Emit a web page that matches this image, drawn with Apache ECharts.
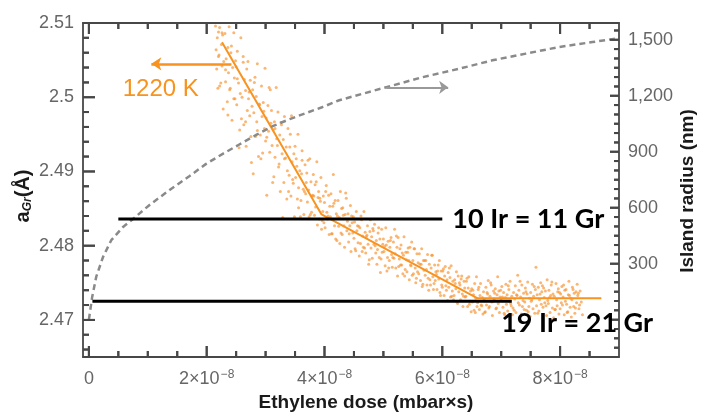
<!DOCTYPE html>
<html>
<head>
<meta charset="utf-8">
<script src="https://cdn.jsdelivr.net/npm/echarts@6/dist/echarts.min.js"></script>
<style>
  html, body { margin: 0; padding: 0; background: #ffffff; }
  #chart { width: 702px; height: 414px; }
</style>
</head>
<body>
<div id="chart"></div>
<script>
// Ethylene dose is stored in units of 1e-8 mbar·s; lattice parameter a_Gr in Å; island radius in nm.
const doseTicks = [0, 2, 4, 6, 8];
const doseMinorTicks = [0.5, 1, 1.5, 2.5, 3, 3.5, 4.5, 5, 5.5, 6.5, 7, 7.5, 8.5];
const latticeTicks = [2.47, 2.48, 2.49, 2.50, 2.51];
const latticeMinorTicks = [2.466, 2.468, 2.472, 2.474, 2.476, 2.478, 2.482, 2.484, 2.486, 2.488,
  2.492, 2.494, 2.496, 2.498, 2.502, 2.504, 2.506, 2.508];
const radiusTicks = [0, 300, 600, 900, 1200, 1500];
const radiusLabels = [300, 600, 900, 1200, 1500];
const radiusMinorTicks = [-150, -100, -50, 50, 100, 150, 200, 250, 350, 400, 450, 500, 550, 650, 700, 750,
  800, 850, 950, 1000, 1050, 1100, 1150, 1250, 1300, 1350, 1400, 1450, 1550];

// Measured lattice parameter during growth at 1220 K
const steepDots = [
  [2.15,2.5096],[2.16,2.5064],[2.17,2.5038],[2.17,2.5102],[2.18,2.5080],[2.19,2.5012],[2.20,2.5055],[2.20,2.5088],
  [2.21,2.5057],[2.22,2.5094],[2.24,2.5019],[2.25,2.5071],[2.26,2.5042],[2.27,2.5084],[2.28,2.4984],[2.29,2.5048],
  [2.31,2.5086],[2.32,2.5021],[2.33,2.5052],[2.35,2.4994],[2.36,2.5067],[2.37,2.5033],[2.38,2.5095],[2.39,2.5010],
  [2.40,2.5012],[2.41,2.5060],[2.43,2.4969],[2.44,2.5040],[2.46,2.5087],[2.47,2.5026],[2.48,2.4998],[2.49,2.5049],
  [2.50,2.5041],[2.51,2.4990],[2.52,2.5062],[2.54,2.5019],[2.55,2.4932],[2.57,2.5005],[2.58,2.5080],[2.59,2.4971],
  [2.60,2.5000],[2.62,2.5055],[2.63,2.4963],[2.64,2.5024],[2.66,2.5009],[2.67,2.4934],[2.68,2.5038],[2.69,2.4982],
  [2.70,2.5048],[2.71,2.4998],[2.73,2.4975],[2.74,2.5023],[2.75,2.4947],[2.77,2.4988],[2.78,2.5010],[2.79,2.4897],
  [2.80,2.4979],[2.81,2.5020],[2.83,2.4947],[2.84,2.5001],[2.85,2.4967],[2.86,2.5045],[2.88,2.4920],[2.89,2.4991],
  [2.90,2.4990],[2.91,2.4949],[2.93,2.5015],[2.94,2.4974],[2.95,2.4925],[2.97,2.4981],[2.98,2.4958],[2.99,2.5039],
  [3.00,2.4941],[3.01,2.4972],[3.02,2.4868],[3.04,2.4989],[3.05,2.4954],[3.07,2.4926],[3.08,2.5010],[3.09,2.4965],
  [3.10,2.4982],[3.11,2.4935],[3.13,2.4956],[3.14,2.4893],[3.15,2.4967],[3.16,2.4919],[3.18,2.5013],[3.19,2.4944],
  [3.20,2.4935],[3.21,2.4980],[3.23,2.4910],[3.24,2.4949],[3.25,2.4873],[3.27,2.4963],[3.28,2.4924],[3.29,2.4838],
  [3.30,2.4943],[3.31,2.4885],[3.32,2.4974],[3.34,2.4918],[3.35,2.4933],[3.37,2.4901],[3.38,2.4958],[3.39,2.4873],
  [3.40,2.4895],[3.41,2.4933],[3.43,2.4867],[3.44,2.4975],[3.45,2.4913],[3.47,2.4884],[3.48,2.4924],[3.49,2.4839],
  [3.50,2.4934],[3.51,2.4892],[3.53,2.4907],[3.54,2.4863],[3.55,2.4950],[3.56,2.4878],[3.58,2.4901],[3.59,2.4839],
  [3.60,2.4861],[3.61,2.4897],[3.62,2.4928],[3.64,2.4876],[3.65,2.4842],[3.67,2.4909],[3.68,2.4870],[3.69,2.4885],
  [3.70,2.4898],[3.71,2.4859],[3.73,2.4875],[3.74,2.4839],[3.75,2.4917],[3.77,2.4886],[3.78,2.4845],[3.79,2.4867],
  [3.80,2.4868],[3.81,2.4896],[3.83,2.4841],[3.84,2.4882],[3.85,2.4852],[3.87,2.4913],[3.88,2.4828],[3.89,2.4865],
  [2.22,2.5015],[2.26,2.5087],[2.32,2.5037],[2.36,2.4976],[2.42,2.5069],[2.46,2.4998],[2.52,2.5025],[2.56,2.4956],
  [2.62,2.5047],[2.66,2.4967],[2.72,2.5007],[2.76,2.4912],[2.82,2.5027],[2.86,2.4955],[2.92,2.4917],[2.96,2.4993],
  [3.02,2.4946],[3.06,2.5013],[3.12,2.4885],[3.16,2.4958],[3.22,2.4906],[3.26,2.4966],[3.32,2.4917],[3.36,2.4863],
  [3.42,2.4950],[3.46,2.4889],[3.52,2.4917],[3.56,2.4851],[3.62,2.4915],[3.66,2.4873],[3.72,2.4915],[3.76,2.4842],
  [3.82,2.4867],[3.86,2.4886]
];
const shallowDots = [
  [3.90,2.4873],[3.91,2.4836],[3.93,2.4860],[3.94,2.4892],[3.95,2.4822],[3.97,2.4846],[3.98,2.4867],[3.99,2.4831],
  [4.00,2.4858],[4.01,2.4824],[4.03,2.4881],[4.04,2.4845],[4.05,2.4836],[4.07,2.4868],[4.08,2.4815],[4.09,2.4853],
  [4.10,2.4839],[4.11,2.4870],[4.13,2.4816],[4.14,2.4853],[4.15,2.4896],[4.17,2.4827],[4.18,2.4861],[4.19,2.4809],
  [4.20,2.4843],[4.21,2.4807],[4.23,2.4861],[4.24,2.4826],[4.25,2.4838],[4.27,2.4873],[4.28,2.4817],[4.29,2.4850],
  [4.30,2.4815],[4.31,2.4851],[4.33,2.4827],[4.34,2.4798],[4.35,2.4842],[4.37,2.4864],[4.38,2.4820],[4.39,2.4833],
  [4.40,2.4843],[4.41,2.4805],[4.43,2.4827],[4.44,2.4854],[4.45,2.4792],[4.47,2.4831],[4.48,2.4817],[4.49,2.4839],
  [4.50,2.4810],[4.51,2.4832],[4.53,2.4793],[4.54,2.4846],[4.55,2.4820],[4.57,2.4804],[4.58,2.4826],[4.59,2.4786],
  [4.60,2.4824],[4.61,2.4803],[4.63,2.4835],[4.64,2.4792],[4.65,2.4813],[4.67,2.4846],[4.68,2.4797],[4.69,2.4818],
  [4.70,2.4790],[4.71,2.4812],[4.73,2.4827],[4.74,2.4802],[4.75,2.4775],[4.77,2.4819],[4.78,2.4835],[4.79,2.4797],
  [4.80,2.4812],[4.81,2.4783],[4.83,2.4820],[4.84,2.4802],[4.85,2.4829],[4.87,2.4790],[4.88,2.4807],[4.89,2.4775],
  [4.90,2.4795],[4.91,2.4817],[4.93,2.4784],[4.94,2.4809],[4.95,2.4764],[4.97,2.4822],[4.98,2.4791],[4.99,2.4802],
  [5.00,2.4809],[5.01,2.4792],[5.03,2.4773],[5.04,2.4824],[5.05,2.4801],[5.07,2.4784],[5.08,2.4806],[5.09,2.4770],
  [5.10,2.4780],[5.11,2.4798],[5.13,2.4811],[5.14,2.4788],[5.15,2.4771],[5.17,2.4805],[5.18,2.4783],[5.19,2.4822],
  [5.20,2.4789],[5.21,2.4770],[5.23,2.4798],[5.24,2.4759],[5.25,2.4811],[5.27,2.4782],[5.28,2.4796],[5.29,2.4774],
  [5.30,2.4801],[5.31,2.4774],[5.33,2.4762],[5.34,2.4787],[5.35,2.4812],[5.37,2.4768],[5.38,2.4791],[5.39,2.4781],
  [5.40,2.4765],[5.41,2.4791],[5.43,2.4780],[5.44,2.4754],[5.45,2.4798],[5.47,2.4773],[5.48,2.4805],[5.49,2.4760],
  [5.50,2.4780],[5.51,2.4762],[5.53,2.4796],[5.54,2.4770],[5.55,2.4750],[5.57,2.4789],[5.58,2.4765],[5.59,2.4777],
  [5.60,2.4762],[5.61,2.4789],[5.63,2.4753],[5.64,2.4775],[5.65,2.4796],[5.67,2.4748],[5.68,2.4780],[5.69,2.4767],
  [5.70,2.4780],[5.71,2.4760],[5.73,2.4768],[5.74,2.4747],[5.75,2.4788],[5.77,2.4740],[5.78,2.4775],[5.79,2.4754],
  [5.80,2.4747],[5.81,2.4770],[5.83,2.4787],[5.84,2.4758],[5.85,2.4741],[5.87,2.4774],[5.88,2.4753],[5.89,2.4765],
  [5.90,2.4761],[5.91,2.4741],[5.93,2.4774],[5.94,2.4755],[5.95,2.4780],[5.97,2.4733],[5.98,2.4766],[5.99,2.4747],
  [6.00,2.4744],[6.01,2.4766],[6.03,2.4733],[6.04,2.4759],[6.05,2.4772],[6.07,2.4740],[6.08,2.4754],[6.09,2.4726],
  [6.10,2.4764],[6.11,2.4744],[6.13,2.4757],[6.14,2.4731],[6.15,2.4773],[6.17,2.4739],[6.18,2.4752],[6.19,2.4727],
  [6.20,2.4733],[6.21,2.4754],[6.23,2.4742],[6.24,2.4765],[6.25,2.4724],[6.27,2.4759],[6.28,2.4738],[6.29,2.4750],
  [6.30,2.4747],[6.31,2.4727],[6.33,2.4759],[6.34,2.4735],[6.35,2.4718],[6.37,2.4752],[6.38,2.4743],[6.39,2.4731],
  [6.40,2.4732],[6.41,2.4752],[6.43,2.4718],[6.44,2.4743],[6.45,2.4758],[6.47,2.4725],[6.48,2.4739],[6.49,2.4711],
  [6.50,2.4742],[6.51,2.4724],[6.53,2.4734],[6.54,2.4713],[6.55,2.4749],[6.57,2.4729],[6.58,2.4758],[6.59,2.4718],
  [3.92,2.4864],[3.96,2.4834],[4.02,2.4873],[4.06,2.4840],[4.12,2.4816],[4.16,2.4857],[4.22,2.4840],[4.26,2.4803],
  [4.32,2.4841],[4.36,2.4871],[4.42,2.4816],[4.46,2.4840],[4.52,2.4796],[4.56,2.4827],[4.62,2.4840],[4.66,2.4798],
  [4.72,2.4814],[4.76,2.4781],[4.82,2.4823],[4.86,2.4800],[4.92,2.4824],[4.96,2.4782],[5.02,2.4799],[5.06,2.4766],
  [5.12,2.4807],[5.16,2.4784],[5.22,2.4813],[5.26,2.4772],[5.32,2.4790],[5.36,2.4759],[5.42,2.4797],[5.46,2.4774],
  [5.52,2.4796],[5.56,2.4756],[5.62,2.4775],[5.66,2.4745],[5.72,2.4780],[5.76,2.4756],[5.82,2.4787],[5.86,2.4749],
  [5.92,2.4766],[5.96,2.4737],[6.02,2.4769],[6.06,2.4746],[6.12,2.4770],[6.16,2.4732],[6.22,2.4749],[6.26,2.4722],
  [6.32,2.4755],[6.36,2.4732],[6.42,2.4756],[6.46,2.4721],[6.52,2.4740],[6.56,2.4710]
];
const saturatedDots = [
  [6.60,2.4723],[6.61,2.4741],[6.63,2.4714],[6.64,2.4733],[6.65,2.4749],[6.67,2.4719],[6.68,2.4730],[6.69,2.4708],
  [6.70,2.4738],[6.71,2.4727],[6.73,2.4711],[6.74,2.4744],[6.75,2.4720],[6.77,2.4735],[6.78,2.4753],[6.79,2.4716],
  [6.80,2.4718],[6.81,2.4732],[6.83,2.4747],[6.84,2.4724],[6.85,2.4706],[6.87,2.4739],[6.88,2.4728],[6.89,2.4736],
  [6.90,2.4742],[6.91,2.4715],[6.93,2.4734],[6.94,2.4758],[6.95,2.4722],[6.97,2.4710],[6.98,2.4731],[6.99,2.4740],
  [7.00,2.4726],[7.01,2.4745],[7.03,2.4717],[7.04,2.4737],[7.05,2.4709],[7.07,2.4730],[7.08,2.4748],[7.09,2.4721],
  [7.10,2.4734],[7.11,2.4712],[7.13,2.4741],[7.14,2.4725],[7.15,2.4752],[7.17,2.4719],[7.18,2.4732],[7.19,2.4707],
  [7.20,2.4716],[7.21,2.4737],[7.23,2.4728],[7.24,2.4746],[7.25,2.4710],[7.27,2.4733],[7.28,2.4760],[7.29,2.4723],
  [7.30,2.4740],[7.31,2.4720],[7.33,2.4731],[7.34,2.4708],[7.35,2.4747],[7.37,2.4726],[7.38,2.4736],[7.39,2.4714],
  [7.40,2.4724],[7.41,2.4743],[7.43,2.4713],[7.44,2.4735],[7.45,2.4751],[7.47,2.4718],[7.48,2.4729],[7.49,2.4705],
  [7.50,2.4737],[7.51,2.4725],[7.53,2.4748],[7.54,2.4715],[7.55,2.4732],[7.57,2.4709],[7.58,2.4741],[7.59,2.4771],
  [7.60,2.4719],[7.61,2.4734],[7.63,2.4744],[7.64,2.4712],[7.65,2.4727],[7.67,2.4750],[7.68,2.4721],[7.69,2.4738],
  [7.70,2.4746],[7.71,2.4717],[7.73,2.4730],[7.74,2.4723],[7.75,2.4739],[7.77,2.4706],[7.78,2.4754],[7.79,2.4726],
  [7.80,2.4722],[7.81,2.4740],[7.83,2.4710],[7.84,2.4733],[7.85,2.4747],[7.87,2.4716],[7.88,2.4735],[7.89,2.4703],
  [7.90,2.4732],[7.91,2.4714],[7.93,2.4749],[7.94,2.4727],[7.95,2.4719],[7.97,2.4742],[7.98,2.4708],[7.99,2.4737],
  [8.00,2.4715],[8.01,2.4735],[8.03,2.4745],[8.04,2.4720],[8.05,2.4731],[8.07,2.4707],[8.08,2.4740],[8.09,2.4725],
  [8.10,2.4741],[8.11,2.4721],[8.13,2.4711],[8.14,2.4734],[8.15,2.4752],[8.17,2.4717],[8.18,2.4729],[8.19,2.4704],
  [8.20,2.4727],[8.21,2.4744],[8.23,2.4718],[8.24,2.4736],[8.25,2.4709],[8.27,2.4738],[8.28,2.4723],[8.29,2.4748],
  [8.30,2.4733],[8.32,2.4715],[8.34,2.4739],[8.36,2.4724],[8.38,2.4707],
  [6.62,2.4744],[6.66,2.4720],[6.72,2.4710],[6.76,2.4737],[6.82,2.4750],[6.86,2.4725],[6.92,2.4716],[6.96,2.4739],
  [7.02,2.4731],[7.06,2.4707],[7.12,2.4746],[7.16,2.4722],[7.22,2.4713],[7.26,2.4734],[7.32,2.4752],[7.36,2.4718],
  [7.42,2.4738],[7.46,2.4711],[7.52,2.4727],[7.56,2.4745],[7.62,2.4709],[7.66,2.4735],[7.72,2.4743],[7.76,2.4719],
  [7.82,2.4730],[7.86,2.4751],[7.92,2.4714],[7.96,2.4738],[8.02,2.4723],[8.06,2.4747],[8.12,2.4710],[8.16,2.4733],
  [8.22,2.4741],[8.26,2.4716],[8.31,2.4736],[8.33,2.4720]
];

// Piecewise linear fit of the lattice parameter
const fitDose = [2.26, 3.95, 6.60, 8.70];
const fitLattice = [2.5074, 2.4842, 2.4729, 2.4729];

// Island radius (right axis)
const radiusDose = [0, 0.056, 0.124, 0.24, 0.38, 0.58, 0.75, 1.03, 1.37, 1.71, 1.99, 2.28, 2.56, 2.84,
  3.12, 3.41, 3.69, 3.97, 4.25, 5.05, 5.67, 6.29, 6.85, 7.42, 7.98, 8.55, 8.94];
const radiusNm = [0, 122, 229, 336, 426, 497, 540, 615, 695, 770, 835, 890, 940, 990,
  1037, 1075, 1108, 1140, 1176, 1246, 1300, 1345, 1390, 1426, 1461, 1488, 1506];

// Commensurate superstructure reference levels
const level10on11 = { label: '10 Ir = 11 Gr', lattice: 2.4836, from: 0.50, to: 6.00 };
const level19on21 = { label: '19 Ir = 21 Gr', lattice: 2.4725, from: 0.06, to: 7.18 };

const ORANGE = '#f7931e';
const AXIS = '#474747';
const TICK_TEXT = '#666666';
const FONT = '"Liberation Sans", Arial, sans-serif';

const DOSE_MIN = -0.1, DOSE_MAX = 9;
const LAT_MIN = 2.465, LAT_MAX = 2.51;
const RAD_MIN = -200, RAD_MAX = 1590;
const GRID = { left: 83, right: 83, top: 23, bottom: 57 };
const PLOT_W = 702 - GRID.left - GRID.right;
const PLOT_H = 414 - GRID.top - GRID.bottom;

// Inward tick marks as short paths in axis units; a null coordinate breaks the path
const dosePerPx = (DOSE_MAX - DOSE_MIN) / PLOT_W;
const latPerPx = (LAT_MAX - LAT_MIN) / PLOT_H;
const frameTickPath = [];
[[doseTicks, 11], [doseMinorTicks, 6]].forEach(([vals, len]) => vals.forEach(v => {
  frameTickPath.push([v, LAT_MIN], [v, LAT_MIN + len * latPerPx], [v, null]);
  frameTickPath.push([v, LAT_MAX], [v, LAT_MAX - len * latPerPx], [v, null]);
}));
[[latticeTicks, 12], [latticeMinorTicks, 6]].forEach(([vals, len]) => vals.forEach(v => {
  frameTickPath.push([DOSE_MIN, v], [DOSE_MIN + len * dosePerPx, v], [null, v]);
}));
const radiusTickPath = [];
[[radiusTicks, 9], [radiusMinorTicks, 5]].forEach(([vals, len]) => vals.forEach(v => {
  radiusTickPath.push([DOSE_MAX, v], [DOSE_MAX - len * dosePerPx, v], [null, v]);
}));

const chart = echarts.init(document.getElementById('chart'));

function xAxisDef(position, labels) {
  return {
    type: 'value', min: DOSE_MIN, max: DOSE_MAX, position,
    axisLine: { show: true, onZero: false, lineStyle: { color: AXIS, width: 1.8 } },
    axisTick: { show: false },
    axisLabel: labels ? {
      show: true, customValues: doseTicks, margin: 12, color: TICK_TEXT, fontFamily: FONT, fontSize: 18,
      formatter: v => v === 0 ? '{m|0}' : '{m|' + v + '×10}{e|−8}',
      rich: {
        m: { fontSize: 18, fontFamily: FONT, color: TICK_TEXT, lineHeight: 20 },
        e: { fontSize: 12, fontFamily: FONT, color: TICK_TEXT, verticalAlign: 'bottom', padding: [0, 0, 9, 1] }
      }
    } : { show: false },
    splitLine: { show: false }
  };
}
function yAxisDef(position, min, max, labelValues, fmt) {
  return {
    type: 'value', min, max, position,
    axisLine: { show: true, onZero: false, lineStyle: { color: AXIS, width: 1.8 } },
    axisTick: { show: false },
    axisLabel: {
      show: true, customValues: labelValues, margin: 9, color: TICK_TEXT, fontFamily: FONT, fontSize: 18, formatter: fmt
    },
    splitLine: { show: false }
  };
}

const latticeFmt = v => String(+v.toFixed(3));
const radiusFmt = v => v.toLocaleString('en-US');

chart.setOption({
  animation: false,
  grid: GRID,
  xAxis: [
    xAxisDef('bottom', true),
    xAxisDef('top', false)
  ],
  yAxis: [
    yAxisDef('left', LAT_MIN, LAT_MAX, latticeTicks, latticeFmt),
    yAxisDef('right', RAD_MIN, RAD_MAX, radiusLabels, radiusFmt)
  ],
  series: [
    {
      type: 'line', xAxisIndex: 0, yAxisIndex: 0,
      data: frameTickPath, symbol: 'none', clip: false,
      lineStyle: { color: AXIS, width: 2 }
    },
    {
      type: 'line', xAxisIndex: 0, yAxisIndex: 1,
      data: radiusTickPath, symbol: 'none', clip: false,
      lineStyle: { color: AXIS, width: 2 }
    },
    {
      name: 'a_Gr', type: 'scatter', xAxisIndex: 0, yAxisIndex: 0,
      data: steepDots.concat(shallowDots, saturatedDots),
      symbol: 'circle', symbolSize: 3, clip: true, z: 2,
      itemStyle: { color: 'rgba(247, 148, 52, 0.85)' }
    },
    {
      name: 'fit', type: 'line', xAxisIndex: 0, yAxisIndex: 0,
      data: fitDose.map((d, i) => [d, fitLattice[i]]),
      symbol: 'none', z: 3,
      lineStyle: { color: ORANGE, width: 2 },
      markLine: {
        symbol: ['none', 'arrow'], symbolSize: [10, 10],
        label: { show: false },
        lineStyle: { color: ORANGE, width: 2.5, type: 'solid' },
        data: [[{ coord: [2.42, 2.5045] }, { coord: [1.06, 2.5045] }]]
      }
    },
    {
      name: 'radius', type: 'line', xAxisIndex: 0, yAxisIndex: 1,
      data: radiusDose.map((d, i) => [d, radiusNm[i]]),
      symbol: 'none', smooth: false, z: 4,
      lineStyle: { color: '#8a8a8a', width: 2.5, type: [6, 4] },
      markLine: {
        symbol: ['none', 'arrow'], symbolSize: [10, 9],
        label: { show: false },
        lineStyle: { color: '#999999', width: 2, type: 'solid' },
        data: [[{ coord: [5.05, 1245] }, { coord: [6.10, 1245] }]]
      }
    },
    {
      name: level10on11.label, type: 'line', xAxisIndex: 0, yAxisIndex: 0,
      data: [[level10on11.from, level10on11.lattice], [level10on11.to, level10on11.lattice]],
      symbol: 'none', z: 5, lineStyle: { color: '#000000', width: 3 }
    },
    {
      name: level19on21.label, type: 'line', xAxisIndex: 0, yAxisIndex: 0,
      data: [[level19on21.from, level19on21.lattice], [level19on21.to, level19on21.lattice]],
      symbol: 'none', z: 5, lineStyle: { color: '#000000', width: 3 }
    }
  ]
});

// Pixel positions come from the chart's own axis scales
const toPx = p => chart.convertToPixel({ xAxisIndex: 0, yAxisIndex: 0 }, p);
const toPxRadius = p => chart.convertToPixel({ xAxisIndex: 0, yAxisIndex: 1 }, p);

// The same inward ticks again as thin filled bars
const TICK_W = 2;
const vTick = (x, y, len) => ({ type: 'rect', z: 100,
  shape: { x: x - TICK_W / 2, y: len > 0 ? y - len : y, width: TICK_W, height: Math.abs(len) }, style: { fill: AXIS } });
const hTick = (x, y, len) => ({ type: 'rect', z: 100,
  shape: { x: len > 0 ? x : x + len, y: y - TICK_W / 2, width: Math.abs(len), height: TICK_W }, style: { fill: AXIS } });
const frameTicks = [];
[[doseTicks, 11], [doseMinorTicks, 6]].forEach(([vals, len]) => vals.forEach(v => {
  const b = toPx([v, LAT_MIN]), t = toPx([v, LAT_MAX]);
  frameTicks.push(vTick(b[0], b[1], len), vTick(t[0], t[1], -len));
}));
[[latticeTicks, 12], [latticeMinorTicks, 6]].forEach(([vals, len]) => vals.forEach(v => {
  const l = toPx([DOSE_MIN, v]);
  frameTicks.push(hTick(l[0], l[1], len));
}));
[[radiusTicks, 9], [radiusMinorTicks, 5]].forEach(([vals, len]) => vals.forEach(v => {
  const r = toPxRadius([DOSE_MAX, v]);
  frameTicks.push(hTick(r[0], r[1], -len));
}));

const tempPos = toPx([1.22, 2.5010]);
const lbl1Pos = toPx([6.17, 2.4836]);
const lbl2Pos = toPx([7.00, 2.4696]);
const annoFont = 'Lato, "Liberation Sans", sans-serif';

chart.setOption({
  graphic: frameTicks.concat([
    { type: 'text', x: tempPos[0], y: tempPos[1], z: 110,
      style: { text: '1220 K', fill: ORANGE, fontFamily: FONT, fontSize: 24, align: 'center', verticalAlign: 'middle' } },
    { type: 'text', x: lbl1Pos[0], y: lbl1Pos[1], z: 110,
      style: { text: level10on11.label, fill: '#000', fontFamily: annoFont, fontWeight: 'bold', fontSize: 27, align: 'left', verticalAlign: 'middle' } },
    { type: 'text', x: lbl2Pos[0], y: lbl2Pos[1], z: 110,
      style: { text: level19on21.label, fill: '#000', fontFamily: annoFont, fontWeight: 'bold', fontSize: 27, align: 'left', verticalAlign: 'middle' } },
    { type: 'text', x: 366, y: 403, z: 110,
      style: { text: 'Ethylene dose (mbar×s)', fill: '#1a1a1a', fontFamily: FONT, fontWeight: 'bold', fontSize: 19, align: 'center', verticalAlign: 'middle' } },
    { type: 'text', x: 688, y: 191, rotation: Math.PI / 2, z: 110,
      style: { text: 'Island radius (nm)', fill: '#1a1a1a', fontFamily: FONT, fontWeight: 'bold', fontSize: 19, align: 'center', verticalAlign: 'middle' } },
    { type: 'text', x: 23, y: 196, rotation: Math.PI / 2, z: 110,
      style: {
        text: '{a|a}{s|Gr}{b|(Å)}', align: 'center', verticalAlign: 'middle',
        rich: {
          a: { fontFamily: FONT, fontWeight: 'bold', fontSize: 20, fill: '#1a1a1a', lineHeight: 22 },
          s: { fontFamily: FONT, fontWeight: 'bold', fontStyle: 'italic', fontSize: 12, fill: '#1a1a1a', verticalAlign: 'top', padding: [10, 0, 0, 0] },
          b: { fontFamily: FONT, fontWeight: 'bold', fontSize: 20, fill: '#1a1a1a', lineHeight: 22 }
        }
      } }
  ])
});
</script>
</body>
</html>
